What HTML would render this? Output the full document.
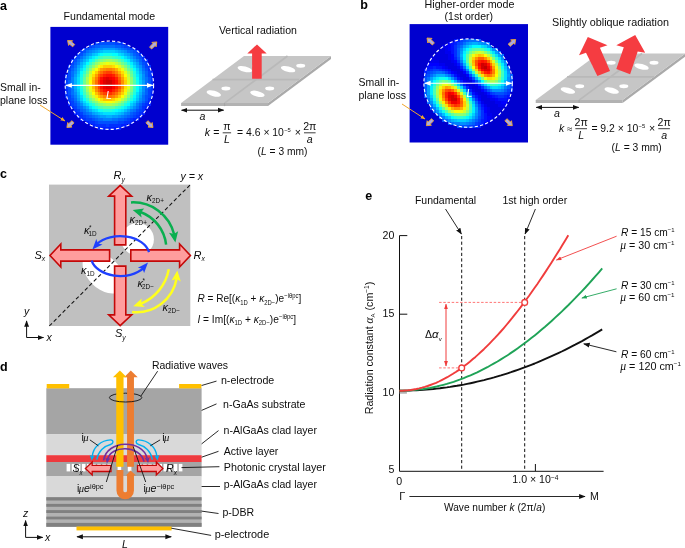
<!DOCTYPE html>
<html><head><meta charset="utf-8"><title>figure</title>
<style>html,body{margin:0;padding:0;background:#fff}svg{display:block;will-change:transform}text{font-family:'Liberation Sans', sans-serif}.i{font-style:italic}.b{font-weight:bold}</style>
</head><body>
<svg width="685" height="548" viewBox="0 0 685 548">
<defs>
<marker id="mk" viewBox="0 0 10 10" refX="9" refY="5" markerWidth="6.5" markerHeight="6.5" orient="auto-start-reverse" markerUnits="userSpaceOnUse"><path d="M0 1.2L10 5L0 8.8z" fill="#111"/></marker>
<marker id="mw" viewBox="0 0 10 10" refX="9" refY="5" markerWidth="6.5" markerHeight="6.5" orient="auto-start-reverse" markerUnits="userSpaceOnUse"><path d="M0 1.2L10 5L0 8.8z" fill="#fff"/></marker>
<marker id="mo" viewBox="0 0 10 10" refX="9" refY="5" markerWidth="5" markerHeight="5" orient="auto" markerUnits="userSpaceOnUse"><path d="M0 1.2L10 5L0 8.8z" fill="#f0a62a"/></marker>
<marker id="mr" viewBox="0 0 10 10" refX="9" refY="5" markerWidth="5.5" markerHeight="5.5" orient="auto-start-reverse" markerUnits="userSpaceOnUse"><path d="M0 1.5L10 5L0 8.5z" fill="#f03c3c"/></marker>
<marker id="mg" viewBox="0 0 10 10" refX="9" refY="5" markerWidth="5.5" markerHeight="5.5" orient="auto" markerUnits="userSpaceOnUse"><path d="M0 1.5L10 5L0 8.5z" fill="#1fa357"/></marker>
</defs>
<rect width="685" height="548" fill="#fff"/>
<text x="0" y="10" font-size="12.5" text-anchor="start" fill="#000" class="b" >a</text>
<text x="109.3" y="19.5" font-size="10.6" text-anchor="middle" fill="#0d0d0d"  textLength="91.5" lengthAdjust="spacingAndGlyphs" >Fundamental mode</text>
<rect x="50.40" y="26.90" width="117.80" height="117.80" fill="rgb(0, 0, 207)"/>
<g transform="translate(50.40 26.90) scale(2.9450)" shape-rendering="crispEdges">
<path fill="rgb(0, 32, 255)" d="M34 15h1v1h-1zM34 22h1v1h-1zM34 23h1v1h-1zM33 25h1v1h-1zM6 26h1v1h-1zM33 26h1v1h-1zM32 27h1v1h-1zM8 29h1v1h-1zM31 29h1v1h-1zM9 30h1v1h-1zM30 30h1v1h-1zM10 31h1v1h-1zM28 31h1v1h-1zM29 31h1v1h-1zM12 32h1v1h-1zM27 32h1v1h-1zM14 33h1v1h-1zM24 33h1v1h-1zM25 33h1v1h-1zM16 34h1v1h-1zM17 34h1v1h-1zM18 34h1v1h-1zM19 34h1v1h-1zM20 34h1v1h-1zM21 34h1v1h-1zM22 34h1v1h-1zM23 34h1v1h-1z"/>
<path fill="rgb(0, 48, 255)" d="M24 5h1v1h-1zM28 7h1v1h-1zM30 9h1v1h-1zM31 10h1v1h-1zM7 11h1v1h-1zM32 11h1v1h-1zM6 13h1v1h-1zM33 13h1v1h-1zM33 14h1v1h-1zM5 16h1v1h-1zM34 16h1v1h-1zM34 17h1v1h-1zM34 18h1v1h-1zM34 19h1v1h-1zM34 20h1v1h-1zM5 21h1v1h-1zM34 21h1v1h-1zM5 22h1v1h-1zM5 23h1v1h-1zM33 24h1v1h-1zM6 25h1v1h-1zM32 26h1v1h-1zM7 27h1v1h-1zM31 27h1v1h-1zM8 28h1v1h-1zM31 28h1v1h-1zM9 29h1v1h-1zM30 29h1v1h-1zM10 30h1v1h-1zM29 30h1v1h-1zM11 31h1v1h-1zM27 31h1v1h-1zM13 32h1v1h-1zM14 32h1v1h-1zM25 32h1v1h-1zM26 32h1v1h-1zM15 33h1v1h-1zM16 33h1v1h-1zM17 33h1v1h-1zM18 33h1v1h-1zM20 33h1v1h-1zM21 33h1v1h-1zM22 33h1v1h-1zM23 33h1v1h-1z"/>
<path fill="rgb(0, 64, 255)" d="M15 5h1v1h-1zM16 5h1v1h-1zM22 5h1v1h-1zM23 5h1v1h-1zM13 6h1v1h-1zM25 6h1v1h-1zM26 6h1v1h-1zM11 7h1v1h-1zM27 7h1v1h-1zM10 8h1v1h-1zM29 8h1v1h-1zM9 9h1v1h-1zM8 10h1v1h-1zM31 11h1v1h-1zM7 12h1v1h-1zM32 12h1v1h-1zM32 13h1v1h-1zM6 14h1v1h-1zM33 15h1v1h-1zM33 16h1v1h-1zM5 17h1v1h-1zM5 18h1v1h-1zM5 19h1v1h-1zM5 20h1v1h-1zM33 21h1v1h-1zM33 22h1v1h-1zM6 23h1v1h-1zM33 23h1v1h-1zM6 24h1v1h-1zM7 25h1v1h-1zM32 25h1v1h-1zM7 26h1v1h-1zM31 26h1v1h-1zM8 27h1v1h-1zM9 28h1v1h-1zM30 28h1v1h-1zM10 29h1v1h-1zM29 29h1v1h-1zM11 30h1v1h-1zM28 30h1v1h-1zM12 31h1v1h-1zM13 31h1v1h-1zM26 31h1v1h-1zM15 32h1v1h-1zM23 32h1v1h-1zM24 32h1v1h-1zM19 33h1v1h-1z"/>
<path fill="rgb(0, 80, 255)" d="M17 5h1v1h-1zM18 5h1v1h-1zM19 5h1v1h-1zM20 5h1v1h-1zM21 5h1v1h-1zM14 6h1v1h-1zM24 6h1v1h-1zM12 7h1v1h-1zM26 7h1v1h-1zM11 8h1v1h-1zM28 8h1v1h-1zM10 9h1v1h-1zM29 9h1v1h-1zM9 10h1v1h-1zM30 10h1v1h-1zM8 11h1v1h-1zM31 12h1v1h-1zM7 13h1v1h-1zM32 14h1v1h-1zM6 15h1v1h-1zM6 16h1v1h-1zM6 17h1v1h-1zM33 17h1v1h-1zM33 18h1v1h-1zM33 19h1v1h-1zM6 20h1v1h-1zM33 20h1v1h-1zM6 21h1v1h-1zM6 22h1v1h-1zM32 23h1v1h-1zM7 24h1v1h-1zM32 24h1v1h-1zM8 26h1v1h-1zM30 27h1v1h-1zM29 28h1v1h-1zM28 29h1v1h-1zM12 30h1v1h-1zM27 30h1v1h-1zM14 31h1v1h-1zM25 31h1v1h-1zM16 32h1v1h-1zM17 32h1v1h-1zM18 32h1v1h-1zM19 32h1v1h-1zM20 32h1v1h-1zM21 32h1v1h-1zM22 32h1v1h-1z"/>
<path fill="rgb(0, 96, 255)" d="M15 6h1v1h-1zM16 6h1v1h-1zM22 6h1v1h-1zM23 6h1v1h-1zM13 7h1v1h-1zM25 7h1v1h-1zM27 8h1v1h-1zM28 9h1v1h-1zM29 10h1v1h-1zM30 11h1v1h-1zM8 12h1v1h-1zM31 13h1v1h-1zM7 14h1v1h-1zM32 15h1v1h-1zM32 16h1v1h-1zM6 18h1v1h-1zM6 19h1v1h-1zM32 21h1v1h-1zM32 22h1v1h-1zM7 23h1v1h-1zM8 25h1v1h-1zM31 25h1v1h-1zM30 26h1v1h-1zM9 27h1v1h-1zM10 28h1v1h-1zM11 29h1v1h-1zM27 29h1v1h-1zM13 30h1v1h-1zM26 30h1v1h-1zM15 31h1v1h-1zM23 31h1v1h-1zM24 31h1v1h-1z"/>
<path fill="rgb(0, 112, 255)" d="M17 6h1v1h-1zM18 6h1v1h-1zM19 6h1v1h-1zM20 6h1v1h-1zM21 6h1v1h-1zM14 7h1v1h-1zM24 7h1v1h-1zM12 8h1v1h-1zM26 8h1v1h-1zM11 9h1v1h-1zM10 10h1v1h-1zM9 11h1v1h-1zM30 12h1v1h-1zM8 13h1v1h-1zM31 14h1v1h-1zM7 15h1v1h-1zM7 16h1v1h-1zM32 17h1v1h-1zM32 18h1v1h-1zM32 19h1v1h-1zM32 20h1v1h-1zM7 21h1v1h-1zM7 22h1v1h-1zM31 23h1v1h-1zM8 24h1v1h-1zM31 24h1v1h-1zM9 26h1v1h-1zM10 27h1v1h-1zM29 27h1v1h-1zM11 28h1v1h-1zM28 28h1v1h-1zM12 29h1v1h-1zM14 30h1v1h-1zM25 30h1v1h-1zM16 31h1v1h-1zM17 31h1v1h-1zM21 31h1v1h-1zM22 31h1v1h-1z"/>
<path fill="rgb(0, 128, 255)" d="M15 7h1v1h-1zM23 7h1v1h-1zM13 8h1v1h-1zM27 9h1v1h-1zM28 10h1v1h-1zM29 11h1v1h-1zM9 12h1v1h-1zM8 14h1v1h-1zM31 15h1v1h-1zM7 17h1v1h-1zM7 18h1v1h-1zM7 19h1v1h-1zM7 20h1v1h-1zM31 22h1v1h-1zM8 23h1v1h-1zM9 25h1v1h-1zM30 25h1v1h-1zM29 26h1v1h-1zM27 28h1v1h-1zM13 29h1v1h-1zM26 29h1v1h-1zM15 30h1v1h-1zM24 30h1v1h-1zM18 31h1v1h-1zM19 31h1v1h-1zM20 31h1v1h-1z"/>
<path fill="rgb(0, 143, 255)" d="M16 7h1v1h-1zM17 7h1v1h-1zM22 7h1v1h-1zM14 8h1v1h-1zM25 8h1v1h-1zM12 9h1v1h-1zM11 10h1v1h-1zM10 11h1v1h-1zM30 13h1v1h-1zM8 15h1v1h-1zM31 16h1v1h-1zM31 17h1v1h-1zM31 20h1v1h-1zM31 21h1v1h-1zM8 22h1v1h-1zM30 24h1v1h-1zM10 26h1v1h-1zM11 27h1v1h-1zM28 27h1v1h-1zM12 28h1v1h-1zM25 29h1v1h-1zM16 30h1v1h-1zM23 30h1v1h-1z"/>
<path fill="rgb(0, 159, 255)" d="M18 7h1v1h-1zM19 7h1v1h-1zM20 7h1v1h-1zM21 7h1v1h-1zM15 8h1v1h-1zM24 8h1v1h-1zM13 9h1v1h-1zM26 9h1v1h-1zM27 10h1v1h-1zM28 11h1v1h-1zM29 12h1v1h-1zM9 13h1v1h-1zM30 14h1v1h-1zM8 16h1v1h-1zM31 18h1v1h-1zM31 19h1v1h-1zM8 21h1v1h-1zM30 23h1v1h-1zM9 24h1v1h-1zM29 25h1v1h-1zM26 28h1v1h-1zM14 29h1v1h-1zM17 30h1v1h-1zM18 30h1v1h-1zM21 30h1v1h-1zM22 30h1v1h-1z"/>
<path fill="rgb(0, 175, 255)" d="M16 8h1v1h-1zM23 8h1v1h-1zM25 9h1v1h-1zM12 10h1v1h-1zM11 11h1v1h-1zM10 12h1v1h-1zM29 13h1v1h-1zM9 14h1v1h-1zM30 15h1v1h-1zM8 17h1v1h-1zM8 18h1v1h-1zM8 19h1v1h-1zM8 20h1v1h-1zM30 22h1v1h-1zM9 23h1v1h-1zM10 25h1v1h-1zM28 26h1v1h-1zM12 27h1v1h-1zM27 27h1v1h-1zM13 28h1v1h-1zM15 29h1v1h-1zM24 29h1v1h-1zM19 30h1v1h-1zM20 30h1v1h-1z"/>
<path fill="rgb(0, 191, 255)" d="M17 8h1v1h-1zM22 8h1v1h-1zM14 9h1v1h-1zM26 10h1v1h-1zM27 11h1v1h-1zM28 12h1v1h-1zM10 13h1v1h-1zM9 15h1v1h-1zM30 16h1v1h-1zM30 17h1v1h-1zM30 21h1v1h-1zM9 22h1v1h-1zM29 24h1v1h-1zM11 26h1v1h-1zM25 28h1v1h-1zM16 29h1v1h-1zM23 29h1v1h-1z"/>
<path fill="rgb(0, 207, 255)" d="M18 8h1v1h-1zM19 8h1v1h-1zM20 8h1v1h-1zM21 8h1v1h-1zM15 9h1v1h-1zM24 9h1v1h-1zM13 10h1v1h-1zM12 11h1v1h-1zM11 12h1v1h-1zM29 14h1v1h-1zM9 16h1v1h-1zM30 18h1v1h-1zM30 19h1v1h-1zM30 20h1v1h-1zM9 21h1v1h-1zM29 23h1v1h-1zM10 24h1v1h-1zM28 25h1v1h-1zM27 26h1v1h-1zM26 27h1v1h-1zM14 28h1v1h-1zM17 29h1v1h-1zM22 29h1v1h-1z"/>
<path fill="rgb(0, 223, 255)" d="M23 9h1v1h-1zM25 10h1v1h-1zM28 13h1v1h-1zM10 14h1v1h-1zM29 15h1v1h-1zM9 17h1v1h-1zM9 18h1v1h-1zM9 19h1v1h-1zM9 20h1v1h-1zM29 22h1v1h-1zM10 23h1v1h-1zM11 25h1v1h-1zM12 26h1v1h-1zM13 27h1v1h-1zM15 28h1v1h-1zM24 28h1v1h-1zM18 29h1v1h-1zM19 29h1v1h-1zM20 29h1v1h-1zM21 29h1v1h-1z"/>
<path fill="rgb(0, 239, 255)" d="M16 9h1v1h-1zM14 10h1v1h-1zM26 11h1v1h-1zM27 12h1v1h-1zM11 13h1v1h-1zM29 16h1v1h-1zM28 24h1v1h-1zM27 25h1v1h-1zM25 27h1v1h-1zM23 28h1v1h-1z"/>
<path fill="rgb(0, 255, 255)" d="M17 9h1v1h-1zM21 9h1v1h-1zM22 9h1v1h-1zM24 10h1v1h-1zM13 11h1v1h-1zM12 12h1v1h-1zM28 14h1v1h-1zM10 15h1v1h-1zM29 17h1v1h-1zM29 20h1v1h-1zM29 21h1v1h-1zM10 22h1v1h-1zM28 23h1v1h-1zM11 24h1v1h-1zM26 26h1v1h-1zM14 27h1v1h-1zM16 28h1v1h-1zM22 28h1v1h-1z"/>
<path fill="rgb(16, 255, 239)" d="M18 9h1v1h-1zM19 9h1v1h-1zM20 9h1v1h-1zM15 10h1v1h-1zM25 11h1v1h-1zM27 13h1v1h-1zM11 14h1v1h-1zM10 16h1v1h-1zM29 18h1v1h-1zM29 19h1v1h-1zM10 21h1v1h-1zM12 25h1v1h-1zM13 26h1v1h-1zM24 27h1v1h-1zM17 28h1v1h-1zM21 28h1v1h-1z"/>
<path fill="rgb(32, 255, 223)" d="M23 10h1v1h-1zM14 11h1v1h-1zM26 12h1v1h-1zM28 15h1v1h-1zM10 17h1v1h-1zM10 18h1v1h-1zM10 19h1v1h-1zM10 20h1v1h-1zM28 22h1v1h-1zM11 23h1v1h-1zM27 24h1v1h-1zM26 25h1v1h-1zM25 26h1v1h-1zM15 27h1v1h-1zM18 28h1v1h-1zM19 28h1v1h-1zM20 28h1v1h-1z"/>
<path fill="rgb(48, 255, 207)" d="M16 10h1v1h-1zM22 10h1v1h-1zM13 12h1v1h-1zM12 13h1v1h-1zM11 15h1v1h-1zM28 16h1v1h-1zM28 21h1v1h-1zM12 24h1v1h-1zM14 26h1v1h-1zM23 27h1v1h-1z"/>
<path fill="rgb(64, 255, 191)" d="M17 10h1v1h-1zM21 10h1v1h-1zM24 11h1v1h-1zM27 14h1v1h-1zM28 17h1v1h-1zM28 20h1v1h-1zM11 22h1v1h-1zM27 23h1v1h-1zM13 25h1v1h-1zM16 27h1v1h-1zM22 27h1v1h-1z"/>
<path fill="rgb(80, 255, 175)" d="M18 10h1v1h-1zM19 10h1v1h-1zM20 10h1v1h-1zM15 11h1v1h-1zM25 12h1v1h-1zM26 13h1v1h-1zM12 14h1v1h-1zM11 16h1v1h-1zM28 18h1v1h-1zM28 19h1v1h-1zM11 21h1v1h-1zM26 24h1v1h-1zM25 25h1v1h-1zM24 26h1v1h-1zM17 27h1v1h-1z"/>
<path fill="rgb(96, 255, 159)" d="M23 11h1v1h-1zM14 12h1v1h-1zM13 13h1v1h-1zM27 15h1v1h-1zM11 17h1v1h-1zM11 20h1v1h-1zM27 22h1v1h-1zM12 23h1v1h-1zM15 26h1v1h-1zM18 27h1v1h-1zM19 27h1v1h-1zM20 27h1v1h-1zM21 27h1v1h-1z"/>
<path fill="rgb(112, 255, 143)" d="M16 11h1v1h-1zM24 12h1v1h-1zM26 14h1v1h-1zM12 15h1v1h-1zM27 16h1v1h-1zM11 18h1v1h-1zM11 19h1v1h-1zM13 24h1v1h-1zM14 25h1v1h-1zM23 26h1v1h-1z"/>
<path fill="rgb(128, 255, 128)" d="M17 11h1v1h-1zM22 11h1v1h-1zM25 13h1v1h-1zM27 21h1v1h-1zM12 22h1v1h-1zM26 23h1v1h-1zM24 25h1v1h-1zM16 26h1v1h-1z"/>
<path fill="rgb(143, 255, 112)" d="M18 11h1v1h-1zM21 11h1v1h-1zM15 12h1v1h-1zM14 13h1v1h-1zM13 14h1v1h-1zM12 16h1v1h-1zM27 17h1v1h-1zM27 18h1v1h-1zM27 19h1v1h-1zM27 20h1v1h-1zM25 24h1v1h-1zM15 25h1v1h-1zM17 26h1v1h-1zM22 26h1v1h-1z"/>
<path fill="rgb(159, 255, 96)" d="M19 11h1v1h-1zM20 11h1v1h-1zM23 12h1v1h-1zM26 15h1v1h-1zM12 21h1v1h-1zM26 22h1v1h-1zM13 23h1v1h-1zM14 24h1v1h-1zM18 26h1v1h-1zM21 26h1v1h-1z"/>
<path fill="rgb(175, 255, 80)" d="M16 12h1v1h-1zM24 13h1v1h-1zM25 14h1v1h-1zM12 17h1v1h-1zM12 18h1v1h-1zM12 19h1v1h-1zM12 20h1v1h-1zM23 25h1v1h-1zM19 26h1v1h-1zM20 26h1v1h-1z"/>
<path fill="rgb(191, 255, 64)" d="M22 12h1v1h-1zM15 13h1v1h-1zM13 15h1v1h-1zM26 16h1v1h-1zM26 21h1v1h-1zM13 22h1v1h-1zM25 23h1v1h-1zM24 24h1v1h-1zM16 25h1v1h-1z"/>
<path fill="rgb(207, 255, 48)" d="M17 12h1v1h-1zM14 14h1v1h-1zM26 17h1v1h-1zM14 23h1v1h-1zM15 24h1v1h-1zM22 25h1v1h-1z"/>
<path fill="rgb(223, 255, 32)" d="M18 12h1v1h-1zM20 12h1v1h-1zM21 12h1v1h-1zM23 13h1v1h-1zM25 15h1v1h-1zM13 16h1v1h-1zM26 18h1v1h-1zM26 19h1v1h-1zM26 20h1v1h-1zM13 21h1v1h-1zM17 25h1v1h-1z"/>
<path fill="rgb(239, 255, 16)" d="M19 12h1v1h-1zM16 13h1v1h-1zM24 14h1v1h-1zM13 17h1v1h-1zM13 20h1v1h-1zM25 22h1v1h-1zM23 24h1v1h-1zM18 25h1v1h-1zM21 25h1v1h-1z"/>
<path fill="rgb(255, 255, 0)" d="M22 13h1v1h-1zM15 14h1v1h-1zM14 15h1v1h-1zM25 16h1v1h-1zM13 18h1v1h-1zM13 19h1v1h-1zM14 22h1v1h-1zM24 23h1v1h-1zM16 24h1v1h-1zM19 25h1v1h-1zM20 25h1v1h-1z"/>
<path fill="rgb(255, 239, 0)" d="M17 13h1v1h-1zM25 21h1v1h-1zM15 23h1v1h-1zM22 24h1v1h-1z"/>
<path fill="rgb(255, 223, 0)" d="M21 13h1v1h-1zM23 14h1v1h-1zM24 15h1v1h-1zM14 16h1v1h-1zM25 17h1v1h-1zM25 20h1v1h-1zM14 21h1v1h-1zM17 24h1v1h-1z"/>
<path fill="rgb(255, 207, 0)" d="M18 13h1v1h-1zM19 13h1v1h-1zM20 13h1v1h-1zM16 14h1v1h-1zM15 15h1v1h-1zM25 18h1v1h-1zM25 19h1v1h-1zM24 22h1v1h-1zM23 23h1v1h-1zM21 24h1v1h-1z"/>
<path fill="rgb(255, 191, 0)" d="M24 16h1v1h-1zM14 17h1v1h-1zM14 20h1v1h-1zM15 22h1v1h-1zM16 23h1v1h-1zM18 24h1v1h-1zM19 24h1v1h-1zM20 24h1v1h-1z"/>
<path fill="rgb(255, 175, 0)" d="M22 14h1v1h-1zM23 15h1v1h-1zM14 18h1v1h-1zM14 19h1v1h-1zM24 21h1v1h-1z"/>
<path fill="rgb(255, 159, 0)" d="M17 14h1v1h-1zM15 16h1v1h-1zM24 17h1v1h-1zM23 22h1v1h-1zM17 23h1v1h-1zM22 23h1v1h-1z"/>
<path fill="rgb(255, 143, 0)" d="M18 14h1v1h-1zM21 14h1v1h-1zM16 15h1v1h-1zM24 18h1v1h-1zM24 19h1v1h-1zM24 20h1v1h-1zM15 21h1v1h-1zM16 22h1v1h-1z"/>
<path fill="rgb(255, 128, 0)" d="M19 14h1v1h-1zM20 14h1v1h-1zM22 15h1v1h-1zM23 16h1v1h-1zM15 17h1v1h-1zM15 20h1v1h-1zM18 23h1v1h-1zM21 23h1v1h-1z"/>
<path fill="rgb(255, 112, 0)" d="M17 15h1v1h-1zM15 18h1v1h-1zM15 19h1v1h-1zM23 21h1v1h-1zM22 22h1v1h-1zM19 23h1v1h-1zM20 23h1v1h-1z"/>
<path fill="rgb(255, 96, 0)" d="M21 15h1v1h-1zM16 16h1v1h-1zM23 17h1v1h-1zM16 21h1v1h-1zM17 22h1v1h-1z"/>
<path fill="rgb(255, 80, 0)" d="M18 15h1v1h-1zM22 16h1v1h-1zM23 18h1v1h-1zM23 20h1v1h-1zM21 22h1v1h-1z"/>
<path fill="rgb(255, 64, 0)" d="M19 15h1v1h-1zM20 15h1v1h-1zM17 16h1v1h-1zM16 17h1v1h-1zM23 19h1v1h-1zM16 20h1v1h-1zM22 21h1v1h-1zM18 22h1v1h-1z"/>
<path fill="rgb(255, 48, 0)" d="M16 18h1v1h-1zM16 19h1v1h-1zM17 21h1v1h-1zM19 22h1v1h-1zM20 22h1v1h-1z"/>
<path fill="rgb(255, 32, 0)" d="M18 16h1v1h-1zM21 16h1v1h-1zM22 17h1v1h-1zM22 20h1v1h-1zM21 21h1v1h-1z"/>
<path fill="rgb(255, 16, 0)" d="M19 16h1v1h-1zM20 16h1v1h-1zM17 17h1v1h-1zM22 18h1v1h-1zM22 19h1v1h-1zM17 20h1v1h-1zM18 21h1v1h-1z"/>
<path fill="rgb(255, 0, 0)" d="M21 17h1v1h-1zM17 18h1v1h-1zM17 19h1v1h-1zM21 20h1v1h-1zM19 21h1v1h-1zM20 21h1v1h-1z"/>
<path fill="rgb(239, 0, 0)" d="M18 17h1v1h-1zM20 17h1v1h-1zM21 18h1v1h-1zM21 19h1v1h-1zM18 20h1v1h-1z"/>
<path fill="rgb(223, 0, 0)" d="M19 17h1v1h-1zM18 18h1v1h-1zM18 19h1v1h-1zM19 20h1v1h-1zM20 20h1v1h-1z"/>
<path fill="rgb(207, 0, 0)" d="M19 18h1v1h-1zM20 18h1v1h-1zM19 19h1v1h-1zM20 19h1v1h-1z"/>
</g>
<circle cx="109.4" cy="85.2" r="44.2" fill="none" stroke="#fff" stroke-width="1.1" stroke-dasharray="3.2 2.2"/>
<line x1="66" y1="85.4" x2="152.8" y2="85.4" stroke="#fff" stroke-width="1.1" marker-start="url(#mw)" marker-end="url(#mw)"/>
<text x="106" y="98.8" font-size="10.6" text-anchor="start" fill="#fff" class="i" >L</text>
<polygon points="74.7,44.5 71.6,41.9 72.6,40.7 67.6,40.5 68.6,45.4 69.6,44.2 72.7,46.8" fill="#a9a9e6" stroke="#f0a62a" stroke-width="0.9" stroke-linejoin="miter"/>
<polygon points="151.6,49.0 155.1,45.7 156.2,46.8 156.8,41.9 151.9,42.4 153.0,43.5 149.5,46.9" fill="#a9a9e6" stroke="#f0a62a" stroke-width="0.9" stroke-linejoin="miter"/>
<polygon points="72.0,120.7 68.7,123.7 67.7,122.5 66.9,127.5 71.9,127.1 70.8,125.9 74.0,122.9" fill="#a9a9e6" stroke="#f0a62a" stroke-width="0.9" stroke-linejoin="miter"/>
<polygon points="145.9,122.9 149.1,125.9 148.0,127.1 153.0,127.5 152.2,122.5 151.2,123.7 147.9,120.7" fill="#a9a9e6" stroke="#f0a62a" stroke-width="0.9" stroke-linejoin="miter"/>
<text x="0" y="91.2" font-size="10.6" text-anchor="start" fill="#0d0d0d"  textLength="40.7" lengthAdjust="spacingAndGlyphs" >Small in-</text>
<text x="0" y="103.7" font-size="10.6" text-anchor="start" fill="#0d0d0d"  textLength="47.5" lengthAdjust="spacingAndGlyphs" >plane loss</text>
<line x1="40" y1="105" x2="65" y2="121" stroke="#f0a62a" stroke-width="1" marker-end="url(#mo)"/>
<polygon points="181.1,103.1 268,103.1 268,106.1 181.1,106.1" fill="#b2b2b2"/>
<polygon points="268,103.1 331,56 331,59.0 268,106.1" fill="#aaa"/>
<polygon points="181.1,103.1 268,103.1 331,56 244,56" fill="#c6c6c6"/>
<line x1="224.55" y1="103.1" x2="287.5" y2="56" stroke="#b9b9b9" stroke-width="1.7"/>
<line x1="212.55" y1="79.55" x2="299.5" y2="79.55" stroke="#b9b9b9" stroke-width="1.7"/>
<line x1="224.55" y1="103.1" x2="224.55" y2="106.1" stroke="#a4a4a4" stroke-width="1.2"/>
<ellipse cx="244.8" cy="69.1" rx="7.4" ry="2.75" fill="#fff" transform="rotate(14 244.8 69.1)"/>
<ellipse cx="256.5" cy="65.8" rx="4.5" ry="1.95" fill="#fff" transform="rotate(0 256.5 65.8)"/>
<ellipse cx="288.1" cy="69.1" rx="7.4" ry="2.75" fill="#fff" transform="rotate(14 288.1 69.1)"/>
<ellipse cx="300.7" cy="65.8" rx="4.5" ry="1.95" fill="#fff" transform="rotate(0 300.7 65.8)"/>
<ellipse cx="213.8" cy="93.5" rx="7.4" ry="2.75" fill="#fff" transform="rotate(14 213.8 93.5)"/>
<ellipse cx="225.9" cy="88.5" rx="4.5" ry="1.95" fill="#fff" transform="rotate(0 225.9 88.5)"/>
<ellipse cx="257.4" cy="93.8" rx="7.4" ry="2.75" fill="#fff" transform="rotate(14 257.4 93.8)"/>
<ellipse cx="269.7" cy="88.5" rx="4.5" ry="1.95" fill="#fff" transform="rotate(0 269.7 88.5)"/>
<polygon points="252.1,78.7 252.1,53.5 247.3,53.5 257.0,44.4 266.7,53.5 261.7,53.5 261.7,78.7" fill="#f53c41"/>
<text x="257.9" y="34.4" font-size="10.6" text-anchor="middle" fill="#0d0d0d"  textLength="78" lengthAdjust="spacingAndGlyphs" >Vertical radiation</text>
<line x1="181.6" y1="110.2" x2="223.6" y2="110.2" stroke="#111" stroke-width="1" marker-start="url(#mk)" marker-end="url(#mk)"/>
<text x="202.5" y="119.6" font-size="10.6" text-anchor="middle" fill="#0d0d0d" class="i" >a</text>
<g font-size="10.6" fill="#0d0d0d">
<text x="204.7" y="135.7" class="i">k</text>
<text x="213.29999999999998" y="135.7">=</text>
<text x="226.89999999999998" y="129.89999999999998" text-anchor="middle">π</text>
<line x1="222.7" y1="132.79999999999998" x2="231.09999999999997" y2="132.79999999999998" stroke="#0d0d0d" stroke-width="0.8"/>
<text x="226.89999999999998" y="142.89999999999998" text-anchor="middle" class="i">L</text>
<text x="237.1" y="135.7" textLength="46.8" lengthAdjust="spacingAndGlyphs">= 4.6 × 10</text>
<text x="284.2" y="131.7" font-size="5.8">−5</text>
<text x="294.7" y="135.7">×</text>
<text x="309.79999999999995" y="129.89999999999998" text-anchor="middle">2π</text>
<line x1="303.99999999999994" y1="132.79999999999998" x2="315.59999999999997" y2="132.79999999999998" stroke="#0d0d0d" stroke-width="0.8"/>
<text x="309.79999999999995" y="142.89999999999998" text-anchor="middle" class="i">a</text>
</g>
<text x="257.6" y="155" font-size="10.6" fill="#0d0d0d" textLength="49.8" lengthAdjust="spacingAndGlyphs">(<tspan class="i">L</tspan> = 3 mm)</text>
<text x="360.3" y="9.3" font-size="12.5" text-anchor="start" fill="#000" class="b" >b</text>
<text x="469.5" y="7.5" font-size="10.6" text-anchor="middle" fill="#0d0d0d"  textLength="90" lengthAdjust="spacingAndGlyphs" >Higher-order mode</text>
<text x="468.8" y="20" font-size="10.6" text-anchor="middle" fill="#0d0d0d"  textLength="48.5" lengthAdjust="spacingAndGlyphs" >(1st order)</text>
<rect x="409.60" y="24.10" width="118.40" height="118.40" fill="rgb(0, 0, 207)"/>
<g transform="translate(409.60 24.10) scale(2.9600)" shape-rendering="crispEdges">
<path fill="rgb(0, 0, 223)" d="M10 8h1v1h-1zM11 8h1v1h-1zM9 9h1v1h-1zM10 9h1v1h-1zM11 9h1v1h-1zM8 10h1v1h-1zM9 10h1v1h-1zM10 10h1v1h-1zM11 10h1v1h-1zM12 10h1v1h-1zM8 11h1v1h-1zM9 11h1v1h-1zM10 11h1v1h-1zM11 11h1v1h-1zM12 11h1v1h-1zM10 12h1v1h-1zM11 12h1v1h-1zM12 12h1v1h-1zM13 12h1v1h-1zM12 13h1v1h-1zM13 13h1v1h-1zM14 13h1v1h-1zM13 14h1v1h-1zM14 14h1v1h-1zM15 14h1v1h-1zM14 15h1v1h-1zM15 15h1v1h-1zM16 15h1v1h-1zM16 16h1v1h-1zM17 16h1v1h-1zM17 17h1v1h-1zM18 17h1v1h-1zM18 18h1v1h-1zM19 18h1v1h-1zM19 19h1v1h-1zM20 19h1v1h-1zM20 20h1v1h-1zM21 20h1v1h-1zM21 21h1v1h-1zM22 21h1v1h-1zM22 22h1v1h-1zM23 22h1v1h-1zM23 23h1v1h-1zM24 23h1v1h-1zM24 24h1v1h-1zM25 24h1v1h-1zM24 25h1v1h-1zM25 25h1v1h-1zM26 25h1v1h-1zM25 26h1v1h-1zM26 26h1v1h-1zM27 26h1v1h-1zM28 26h1v1h-1zM26 27h1v1h-1zM27 27h1v1h-1zM28 27h1v1h-1zM29 27h1v1h-1zM27 28h1v1h-1zM28 28h1v1h-1zM29 28h1v1h-1zM30 28h1v1h-1zM31 28h1v1h-1zM27 29h1v1h-1zM28 29h1v1h-1zM29 29h1v1h-1zM30 29h1v1h-1zM28 30h1v1h-1zM29 30h1v1h-1zM30 30h1v1h-1zM28 31h1v1h-1z"/>
<path fill="rgb(0, 0, 239)" d="M11 7h1v1h-1zM12 7h1v1h-1zM12 8h1v1h-1zM12 9h1v1h-1zM13 9h1v1h-1zM13 10h1v1h-1zM7 11h1v1h-1zM13 11h1v1h-1zM7 12h1v1h-1zM8 12h1v1h-1zM9 12h1v1h-1zM14 12h1v1h-1zM10 13h1v1h-1zM11 13h1v1h-1zM15 13h1v1h-1zM12 14h1v1h-1zM16 14h1v1h-1zM15 16h1v1h-1zM16 17h1v1h-1zM17 18h1v1h-1zM18 19h1v1h-1zM19 20h1v1h-1zM20 21h1v1h-1zM21 22h1v1h-1zM22 23h1v1h-1zM25 23h1v1h-1zM23 24h1v1h-1zM26 24h1v1h-1zM27 25h1v1h-1zM28 25h1v1h-1zM24 26h1v1h-1zM29 26h1v1h-1zM30 26h1v1h-1zM25 27h1v1h-1zM30 27h1v1h-1zM31 27h1v1h-1zM32 27h1v1h-1zM26 28h1v1h-1zM26 29h1v1h-1zM26 30h1v1h-1zM27 30h1v1h-1zM27 31h1v1h-1zM27 32h1v1h-1z"/>
<path fill="rgb(0, 0, 255)" d="M13 6h1v1h-1zM13 7h1v1h-1zM13 8h1v1h-1zM14 10h1v1h-1zM14 11h1v1h-1zM15 12h1v1h-1zM6 13h1v1h-1zM7 13h1v1h-1zM8 13h1v1h-1zM9 13h1v1h-1zM11 14h1v1h-1zM13 15h1v1h-1zM17 15h1v1h-1zM14 16h1v1h-1zM18 16h1v1h-1zM19 17h1v1h-1zM22 20h1v1h-1zM23 21h1v1h-1zM24 22h1v1h-1zM27 24h1v1h-1zM23 25h1v1h-1zM29 25h1v1h-1zM33 25h1v1h-1zM31 26h1v1h-1zM32 26h1v1h-1zM25 28h1v1h-1zM25 29h1v1h-1zM26 31h1v1h-1zM26 32h1v1h-1zM25 33h1v1h-1z"/>
<path fill="rgb(0, 16, 255)" d="M15 5h1v1h-1zM14 6h1v1h-1zM14 7h1v1h-1zM14 8h1v1h-1zM14 9h1v1h-1zM16 13h1v1h-1zM6 14h1v1h-1zM7 14h1v1h-1zM9 14h1v1h-1zM10 14h1v1h-1zM5 15h1v1h-1zM12 15h1v1h-1zM15 17h1v1h-1zM16 18h1v1h-1zM20 18h1v1h-1zM21 19h1v1h-1zM21 23h1v1h-1zM26 23h1v1h-1zM22 24h1v1h-1zM28 24h1v1h-1zM33 24h1v1h-1zM30 25h1v1h-1zM31 25h1v1h-1zM32 25h1v1h-1zM24 27h1v1h-1zM25 30h1v1h-1zM25 31h1v1h-1zM25 32h1v1h-1z"/>
<path fill="rgb(0, 32, 255)" d="M16 5h1v1h-1zM15 6h1v1h-1zM15 11h1v1h-1zM8 14h1v1h-1zM17 14h1v1h-1zM6 15h1v1h-1zM11 15h1v1h-1zM5 16h1v1h-1zM13 16h1v1h-1zM17 19h1v1h-1zM18 20h1v1h-1zM19 21h1v1h-1zM20 22h1v1h-1zM25 22h1v1h-1zM29 24h1v1h-1zM32 24h1v1h-1zM23 26h1v1h-1zM24 28h1v1h-1zM24 32h1v1h-1zM24 33h1v1h-1zM23 34h1v1h-1z"/>
<path fill="rgb(0, 48, 255)" d="M15 7h1v1h-1zM15 8h1v1h-1zM15 9h1v1h-1zM15 10h1v1h-1zM16 12h1v1h-1zM7 15h1v1h-1zM10 15h1v1h-1zM18 15h1v1h-1zM24 21h1v1h-1zM34 22h1v1h-1zM27 23h1v1h-1zM33 23h1v1h-1zM30 24h1v1h-1zM31 24h1v1h-1zM22 25h1v1h-1zM24 29h1v1h-1zM24 30h1v1h-1zM24 31h1v1h-1zM23 33h1v1h-1zM22 34h1v1h-1z"/>
<path fill="rgb(0, 64, 255)" d="M17 5h1v1h-1zM16 6h1v1h-1zM8 15h1v1h-1zM9 15h1v1h-1zM6 16h1v1h-1zM12 16h1v1h-1zM19 16h1v1h-1zM5 17h1v1h-1zM14 17h1v1h-1zM23 20h1v1h-1zM34 21h1v1h-1zM33 22h1v1h-1zM28 23h1v1h-1zM32 23h1v1h-1zM21 24h1v1h-1zM23 27h1v1h-1zM23 32h1v1h-1zM22 33h1v1h-1zM20 34h1v1h-1zM21 34h1v1h-1z"/>
<path fill="rgb(0, 80, 255)" d="M18 5h1v1h-1zM17 6h1v1h-1zM16 7h1v1h-1zM16 11h1v1h-1zM17 13h1v1h-1zM7 16h1v1h-1zM6 17h1v1h-1zM20 17h1v1h-1zM5 18h1v1h-1zM15 18h1v1h-1zM21 18h1v1h-1zM5 19h1v1h-1zM22 19h1v1h-1zM34 19h1v1h-1zM34 20h1v1h-1zM26 22h1v1h-1zM29 23h1v1h-1zM30 23h1v1h-1zM31 23h1v1h-1zM5 24h1v1h-1zM7 28h1v1h-1zM23 28h1v1h-1zM23 31h1v1h-1zM11 32h1v1h-1zM13 33h1v1h-1zM16 34h1v1h-1zM17 34h1v1h-1zM18 34h1v1h-1zM19 34h1v1h-1z"/>
<path fill="rgb(0, 96, 255)" d="M19 5h1v1h-1zM23 5h1v1h-1zM16 8h1v1h-1zM16 9h1v1h-1zM16 10h1v1h-1zM8 16h1v1h-1zM11 16h1v1h-1zM34 17h1v1h-1zM34 18h1v1h-1zM16 19h1v1h-1zM5 20h1v1h-1zM5 21h1v1h-1zM33 21h1v1h-1zM5 22h1v1h-1zM32 22h1v1h-1zM5 23h1v1h-1zM20 23h1v1h-1zM6 26h1v1h-1zM22 26h1v1h-1zM8 29h1v1h-1zM23 29h1v1h-1zM9 30h1v1h-1zM23 30h1v1h-1zM10 31h1v1h-1zM22 32h1v1h-1zM21 33h1v1h-1z"/>
<path fill="rgb(0, 112, 255)" d="M20 5h1v1h-1zM21 5h1v1h-1zM22 5h1v1h-1zM18 6h1v1h-1zM26 6h1v1h-1zM17 7h1v1h-1zM29 8h1v1h-1zM30 9h1v1h-1zM31 10h1v1h-1zM18 14h1v1h-1zM33 14h1v1h-1zM9 16h1v1h-1zM10 16h1v1h-1zM7 17h1v1h-1zM13 17h1v1h-1zM6 18h1v1h-1zM17 20h1v1h-1zM33 20h1v1h-1zM18 21h1v1h-1zM25 21h1v1h-1zM19 22h1v1h-1zM27 22h1v1h-1zM6 25h1v1h-1zM7 27h1v1h-1zM12 32h1v1h-1zM14 33h1v1h-1zM20 33h1v1h-1z"/>
<path fill="rgb(0, 128, 255)" d="M25 6h1v1h-1zM27 7h1v1h-1zM17 12h1v1h-1zM32 12h1v1h-1zM33 15h1v1h-1zM32 21h1v1h-1zM31 22h1v1h-1zM21 25h1v1h-1zM22 27h1v1h-1zM8 28h1v1h-1zM11 31h1v1h-1zM22 31h1v1h-1zM21 32h1v1h-1zM15 33h1v1h-1zM16 33h1v1h-1zM19 33h1v1h-1z"/>
<path fill="rgb(0, 143, 255)" d="M19 6h1v1h-1zM24 6h1v1h-1zM17 8h1v1h-1zM28 8h1v1h-1zM31 11h1v1h-1zM19 15h1v1h-1zM33 16h1v1h-1zM8 17h1v1h-1zM12 17h1v1h-1zM14 18h1v1h-1zM33 18h1v1h-1zM6 19h1v1h-1zM33 19h1v1h-1zM24 20h1v1h-1zM28 22h1v1h-1zM29 22h1v1h-1zM30 22h1v1h-1zM6 24h1v1h-1zM7 26h1v1h-1zM9 29h1v1h-1zM10 30h1v1h-1zM22 30h1v1h-1zM13 32h1v1h-1zM17 33h1v1h-1zM18 33h1v1h-1z"/>
<path fill="rgb(0, 159, 255)" d="M20 6h1v1h-1zM23 6h1v1h-1zM18 7h1v1h-1zM26 7h1v1h-1zM17 9h1v1h-1zM29 9h1v1h-1zM30 10h1v1h-1zM17 11h1v1h-1zM32 13h1v1h-1zM33 17h1v1h-1zM7 18h1v1h-1zM23 19h1v1h-1zM6 20h1v1h-1zM6 21h1v1h-1zM26 21h1v1h-1zM6 22h1v1h-1zM6 23h1v1h-1zM22 28h1v1h-1zM22 29h1v1h-1zM20 32h1v1h-1z"/>
<path fill="rgb(0, 175, 255)" d="M21 6h1v1h-1zM22 6h1v1h-1zM17 10h1v1h-1zM18 13h1v1h-1zM20 16h1v1h-1zM9 17h1v1h-1zM10 17h1v1h-1zM11 17h1v1h-1zM21 17h1v1h-1zM22 18h1v1h-1zM15 19h1v1h-1zM32 20h1v1h-1zM31 21h1v1h-1zM20 24h1v1h-1zM7 25h1v1h-1zM8 27h1v1h-1zM12 31h1v1h-1zM21 31h1v1h-1zM14 32h1v1h-1z"/>
<path fill="rgb(0, 191, 255)" d="M19 7h1v1h-1zM31 12h1v1h-1zM32 14h1v1h-1zM7 19h1v1h-1zM32 19h1v1h-1zM21 26h1v1h-1zM9 28h1v1h-1zM11 30h1v1h-1zM15 32h1v1h-1zM19 32h1v1h-1z"/>
<path fill="rgb(0, 207, 255)" d="M25 7h1v1h-1zM18 8h1v1h-1zM27 8h1v1h-1zM32 15h1v1h-1zM8 18h1v1h-1zM13 18h1v1h-1zM16 20h1v1h-1zM25 20h1v1h-1zM27 21h1v1h-1zM30 21h1v1h-1zM19 23h1v1h-1zM7 24h1v1h-1zM10 29h1v1h-1zM21 30h1v1h-1zM13 31h1v1h-1zM16 32h1v1h-1zM17 32h1v1h-1zM18 32h1v1h-1z"/>
<path fill="rgb(0, 223, 255)" d="M20 7h1v1h-1zM24 7h1v1h-1zM28 9h1v1h-1zM29 10h1v1h-1zM30 11h1v1h-1zM18 12h1v1h-1zM19 14h1v1h-1zM32 16h1v1h-1zM32 17h1v1h-1zM32 18h1v1h-1zM7 20h1v1h-1zM31 20h1v1h-1zM17 21h1v1h-1zM28 21h1v1h-1zM29 21h1v1h-1zM18 22h1v1h-1zM8 26h1v1h-1zM21 27h1v1h-1zM20 31h1v1h-1z"/>
<path fill="rgb(0, 239, 255)" d="M18 9h1v1h-1zM31 13h1v1h-1zM9 18h1v1h-1zM7 21h1v1h-1zM7 22h1v1h-1zM7 23h1v1h-1zM20 25h1v1h-1zM21 28h1v1h-1zM21 29h1v1h-1z"/>
<path fill="rgb(0, 255, 255)" d="M21 7h1v1h-1zM22 7h1v1h-1zM23 7h1v1h-1zM19 8h1v1h-1zM26 8h1v1h-1zM18 10h1v1h-1zM18 11h1v1h-1zM12 18h1v1h-1zM8 19h1v1h-1zM14 19h1v1h-1zM24 19h1v1h-1zM9 27h1v1h-1zM12 30h1v1h-1zM14 31h1v1h-1zM19 31h1v1h-1z"/>
<path fill="rgb(16, 255, 239)" d="M30 12h1v1h-1zM31 14h1v1h-1zM20 15h1v1h-1zM10 18h1v1h-1zM11 18h1v1h-1zM31 19h1v1h-1zM26 20h1v1h-1zM30 20h1v1h-1zM8 25h1v1h-1zM10 28h1v1h-1zM11 29h1v1h-1zM20 30h1v1h-1z"/>
<path fill="rgb(32, 255, 223)" d="M25 8h1v1h-1zM27 9h1v1h-1zM23 18h1v1h-1zM8 20h1v1h-1zM15 31h1v1h-1zM18 31h1v1h-1z"/>
<path fill="rgb(48, 255, 207)" d="M20 8h1v1h-1zM19 9h1v1h-1zM28 10h1v1h-1zM29 11h1v1h-1zM19 13h1v1h-1zM31 15h1v1h-1zM21 16h1v1h-1zM22 17h1v1h-1zM31 18h1v1h-1zM9 19h1v1h-1zM29 20h1v1h-1zM8 24h1v1h-1zM19 24h1v1h-1zM20 26h1v1h-1zM13 30h1v1h-1zM16 31h1v1h-1zM17 31h1v1h-1z"/>
<path fill="rgb(64, 255, 191)" d="M31 16h1v1h-1zM31 17h1v1h-1zM15 20h1v1h-1zM27 20h1v1h-1zM28 20h1v1h-1zM8 21h1v1h-1zM9 26h1v1h-1zM20 29h1v1h-1z"/>
<path fill="rgb(80, 255, 175)" d="M21 8h1v1h-1zM24 8h1v1h-1zM30 13h1v1h-1zM13 19h1v1h-1zM30 19h1v1h-1zM16 21h1v1h-1zM8 22h1v1h-1zM8 23h1v1h-1zM18 23h1v1h-1zM20 27h1v1h-1zM20 28h1v1h-1zM12 29h1v1h-1zM19 30h1v1h-1z"/>
<path fill="rgb(96, 255, 159)" d="M22 8h1v1h-1zM23 8h1v1h-1zM26 9h1v1h-1zM19 10h1v1h-1zM19 11h1v1h-1zM19 12h1v1h-1zM10 19h1v1h-1zM25 19h1v1h-1zM17 22h1v1h-1zM10 27h1v1h-1zM14 30h1v1h-1z"/>
<path fill="rgb(112, 255, 143)" d="M20 9h1v1h-1zM29 12h1v1h-1zM20 14h1v1h-1zM12 19h1v1h-1zM9 20h1v1h-1zM9 25h1v1h-1zM11 28h1v1h-1z"/>
<path fill="rgb(128, 255, 128)" d="M27 10h1v1h-1zM28 11h1v1h-1zM30 14h1v1h-1zM30 18h1v1h-1zM11 19h1v1h-1zM19 25h1v1h-1zM15 30h1v1h-1zM18 30h1v1h-1z"/>
<path fill="rgb(143, 255, 112)" d="M25 9h1v1h-1zM24 18h1v1h-1zM26 19h1v1h-1zM29 19h1v1h-1zM14 20h1v1h-1zM19 29h1v1h-1zM16 30h1v1h-1zM17 30h1v1h-1z"/>
<path fill="rgb(159, 255, 96)" d="M21 9h1v1h-1zM21 15h1v1h-1zM30 15h1v1h-1zM30 17h1v1h-1zM9 21h1v1h-1zM9 24h1v1h-1zM13 29h1v1h-1z"/>
<path fill="rgb(175, 255, 80)" d="M20 10h1v1h-1zM20 13h1v1h-1zM30 16h1v1h-1zM23 17h1v1h-1zM27 19h1v1h-1zM28 19h1v1h-1zM10 20h1v1h-1zM9 22h1v1h-1zM9 23h1v1h-1zM10 26h1v1h-1zM19 26h1v1h-1z"/>
<path fill="rgb(191, 255, 64)" d="M22 9h1v1h-1zM24 9h1v1h-1zM26 10h1v1h-1zM29 13h1v1h-1zM22 16h1v1h-1zM18 24h1v1h-1zM11 27h1v1h-1zM12 28h1v1h-1zM19 28h1v1h-1z"/>
<path fill="rgb(207, 255, 48)" d="M23 9h1v1h-1zM20 11h1v1h-1zM20 12h1v1h-1zM29 18h1v1h-1zM13 20h1v1h-1zM15 21h1v1h-1zM19 27h1v1h-1zM14 29h1v1h-1zM18 29h1v1h-1z"/>
<path fill="rgb(223, 255, 32)" d="M27 11h1v1h-1zM28 12h1v1h-1zM11 20h1v1h-1zM16 22h1v1h-1zM17 23h1v1h-1z"/>
<path fill="rgb(239, 255, 16)" d="M21 10h1v1h-1zM29 14h1v1h-1zM25 18h1v1h-1zM12 20h1v1h-1zM10 21h1v1h-1zM10 25h1v1h-1zM17 29h1v1h-1z"/>
<path fill="rgb(255, 255, 0)" d="M25 10h1v1h-1zM21 14h1v1h-1zM29 17h1v1h-1zM15 29h1v1h-1zM16 29h1v1h-1z"/>
<path fill="rgb(255, 239, 0)" d="M29 15h1v1h-1zM29 16h1v1h-1zM28 18h1v1h-1zM10 24h1v1h-1zM18 25h1v1h-1zM11 26h1v1h-1zM13 28h1v1h-1zM18 28h1v1h-1z"/>
<path fill="rgb(255, 223, 0)" d="M22 10h1v1h-1zM24 17h1v1h-1zM26 18h1v1h-1zM27 18h1v1h-1zM14 21h1v1h-1zM10 22h1v1h-1zM10 23h1v1h-1zM12 27h1v1h-1z"/>
<path fill="rgb(255, 207, 0)" d="M24 10h1v1h-1zM21 11h1v1h-1zM26 11h1v1h-1zM28 13h1v1h-1zM22 15h1v1h-1zM11 21h1v1h-1zM18 26h1v1h-1zM18 27h1v1h-1z"/>
<path fill="rgb(255, 191, 0)" d="M23 10h1v1h-1zM27 12h1v1h-1zM21 13h1v1h-1zM23 16h1v1h-1z"/>
<path fill="rgb(255, 175, 0)" d="M21 12h1v1h-1zM28 17h1v1h-1zM13 21h1v1h-1zM15 22h1v1h-1zM17 24h1v1h-1zM14 28h1v1h-1zM17 28h1v1h-1z"/>
<path fill="rgb(255, 159, 0)" d="M28 14h1v1h-1zM12 21h1v1h-1zM16 23h1v1h-1zM11 25h1v1h-1z"/>
<path fill="rgb(255, 143, 0)" d="M22 11h1v1h-1zM25 11h1v1h-1zM25 17h1v1h-1zM11 22h1v1h-1zM15 28h1v1h-1zM16 28h1v1h-1z"/>
<path fill="rgb(255, 128, 0)" d="M22 14h1v1h-1zM28 15h1v1h-1zM28 16h1v1h-1zM27 17h1v1h-1zM11 24h1v1h-1zM12 26h1v1h-1zM13 27h1v1h-1z"/>
<path fill="rgb(255, 112, 0)" d="M27 13h1v1h-1zM26 17h1v1h-1zM11 23h1v1h-1zM17 25h1v1h-1zM17 27h1v1h-1z"/>
<path fill="rgb(255, 96, 0)" d="M23 11h1v1h-1zM24 11h1v1h-1zM26 12h1v1h-1zM24 16h1v1h-1zM14 22h1v1h-1zM17 26h1v1h-1z"/>
<path fill="rgb(255, 80, 0)" d="M22 12h1v1h-1zM22 13h1v1h-1zM23 15h1v1h-1zM12 22h1v1h-1zM14 27h1v1h-1z"/>
<path fill="rgb(255, 64, 0)" d="M27 16h1v1h-1zM13 22h1v1h-1zM16 24h1v1h-1zM12 25h1v1h-1zM16 27h1v1h-1z"/>
<path fill="rgb(255, 48, 0)" d="M27 14h1v1h-1zM15 23h1v1h-1zM13 26h1v1h-1zM15 27h1v1h-1z"/>
<path fill="rgb(255, 32, 0)" d="M23 12h1v1h-1zM25 12h1v1h-1zM27 15h1v1h-1zM25 16h1v1h-1zM12 23h1v1h-1zM12 24h1v1h-1z"/>
<path fill="rgb(255, 16, 0)" d="M24 12h1v1h-1zM26 13h1v1h-1zM23 14h1v1h-1zM26 16h1v1h-1zM16 25h1v1h-1zM16 26h1v1h-1z"/>
<path fill="rgb(255, 0, 0)" d="M23 13h1v1h-1zM24 15h1v1h-1zM14 23h1v1h-1z"/>
<path fill="rgb(239, 0, 0)" d="M26 14h1v1h-1zM13 23h1v1h-1zM15 24h1v1h-1zM13 25h1v1h-1zM14 26h1v1h-1zM15 26h1v1h-1z"/>
<path fill="rgb(223, 0, 0)" d="M25 13h1v1h-1zM25 15h1v1h-1zM26 15h1v1h-1zM13 24h1v1h-1z"/>
<path fill="rgb(207, 0, 0)" d="M24 13h1v1h-1zM24 14h1v1h-1zM14 24h1v1h-1zM14 25h1v1h-1zM15 25h1v1h-1z"/>
<path fill="rgb(191, 0, 0)" d="M25 14h1v1h-1z"/>
</g>
<circle cx="468.1" cy="83.1" r="44.2" fill="none" stroke="#fff" stroke-width="1.1" stroke-dasharray="3.2 2.2"/>
<line x1="424.8" y1="83.3" x2="511.7" y2="83.3" stroke="#fff" stroke-width="1.1" marker-start="url(#mw)" marker-end="url(#mw)"/>
<text x="466.5" y="97" font-size="10.6" text-anchor="start" fill="#fff" class="i" >L</text>
<polygon points="434.4,42.8 430.9,39.5 432.0,38.4 427.0,38.0 427.8,43.0 428.9,41.8 432.4,45.0" fill="#a9a9e6" stroke="#f0a62a" stroke-width="0.9" stroke-linejoin="miter"/>
<polygon points="510.2,46.4 513.8,43.2 514.8,44.4 515.7,39.5 510.7,39.8 511.8,41.0 508.2,44.1" fill="#a9a9e6" stroke="#f0a62a" stroke-width="0.9" stroke-linejoin="miter"/>
<polygon points="431.6,118.7 428.2,121.9 427.1,120.7 426.4,125.7 431.4,125.3 430.3,124.1 433.6,120.9" fill="#a9a9e6" stroke="#f0a62a" stroke-width="0.9" stroke-linejoin="miter"/>
<polygon points="504.9,120.9 508.4,124.2 507.3,125.3 512.3,125.7 511.5,120.7 510.4,121.9 506.9,118.7" fill="#a9a9e6" stroke="#f0a62a" stroke-width="0.9" stroke-linejoin="miter"/>
<text x="358.5" y="86" font-size="10.6" text-anchor="start" fill="#0d0d0d"  textLength="40.7" lengthAdjust="spacingAndGlyphs" >Small in-</text>
<text x="358.5" y="98.6" font-size="10.6" text-anchor="start" fill="#0d0d0d"  textLength="47.5" lengthAdjust="spacingAndGlyphs" >plane loss</text>
<line x1="402" y1="104" x2="425" y2="119" stroke="#f0a62a" stroke-width="1" marker-end="url(#mo)"/>
<polygon points="535.7,100.1 622.6,100.1 622.6,103.1 535.7,103.1" fill="#b2b2b2"/>
<polygon points="622.6,100.1 685.5,53.5 685.5,56.5 622.6,103.1" fill="#aaa"/>
<polygon points="535.7,100.1 622.6,100.1 685.5,53.5 598.6,53.5" fill="#c6c6c6"/>
<line x1="579.1500000000001" y1="100.1" x2="642.05" y2="53.5" stroke="#b9b9b9" stroke-width="1.7"/>
<line x1="567.1500000000001" y1="76.8" x2="654.05" y2="76.8" stroke="#b9b9b9" stroke-width="1.7"/>
<line x1="579.1500000000001" y1="100.1" x2="579.1500000000001" y2="103.1" stroke="#a4a4a4" stroke-width="1.2"/>
<ellipse cx="599.5" cy="66.6" rx="7.4" ry="2.75" fill="#fff" transform="rotate(14 599.5 66.6)"/>
<ellipse cx="611.2" cy="62.8" rx="4.5" ry="1.95" fill="#fff" transform="rotate(0 611.2 62.8)"/>
<ellipse cx="641.5" cy="66.6" rx="7.4" ry="2.75" fill="#fff" transform="rotate(14 641.5 66.6)"/>
<ellipse cx="654" cy="62.8" rx="4.5" ry="1.95" fill="#fff" transform="rotate(0 654 62.8)"/>
<ellipse cx="567.9" cy="90.5" rx="7.4" ry="2.75" fill="#fff" transform="rotate(14 567.9 90.5)"/>
<ellipse cx="579.7" cy="86.2" rx="4.5" ry="1.95" fill="#fff" transform="rotate(0 579.7 86.2)"/>
<ellipse cx="611.7" cy="90.5" rx="7.4" ry="2.75" fill="#fff" transform="rotate(14 611.7 90.5)"/>
<ellipse cx="623.8" cy="86.2" rx="4.5" ry="1.95" fill="#fff" transform="rotate(0 623.8 86.2)"/>
<polygon points="597.4,75.9 586.0,52.7 579.0,55.3 587.8,36.9 607.5,45.2 599.9,47.7 610.0,71.1" fill="#f53c41"/>
<polygon points="616.3,69.1 623.8,47.2 616.3,45.2 635.2,35.1 645.2,52.7 637.7,51.5 630.1,74.2" fill="#f53c41"/>
<text x="610.5" y="25.8" font-size="10.6" text-anchor="middle" fill="#0d0d0d"  textLength="117" lengthAdjust="spacingAndGlyphs" >Slightly oblique radiation</text>
<line x1="536.2" y1="107.4" x2="578.8" y2="107.4" stroke="#111" stroke-width="1" marker-start="url(#mk)" marker-end="url(#mk)"/>
<text x="557" y="116.8" font-size="10.6" text-anchor="middle" fill="#0d0d0d" class="i" >a</text>
<g font-size="10.6" fill="#0d0d0d">
<text x="559" y="131.6" class="i">k</text>
<text x="567.0" y="131.6" font-size="9.6">≈</text>
<text x="581.2" y="125.8" text-anchor="middle">2π</text>
<line x1="575.4000000000001" y1="128.7" x2="587.0" y2="128.7" stroke="#0d0d0d" stroke-width="0.8"/>
<text x="581.2" y="138.79999999999998" text-anchor="middle" class="i">L</text>
<text x="591.4" y="131.6" textLength="46.8" lengthAdjust="spacingAndGlyphs">= 9.2 × 10</text>
<text x="638.5" y="127.6" font-size="5.8">−5</text>
<text x="649" y="131.6">×</text>
<text x="664.1" y="125.8" text-anchor="middle">2π</text>
<line x1="658.3000000000001" y1="128.7" x2="669.9" y2="128.7" stroke="#0d0d0d" stroke-width="0.8"/>
<text x="664.1" y="138.79999999999998" text-anchor="middle" class="i">a</text>
</g>
<text x="611.6" y="151.3" font-size="10.6" fill="#0d0d0d" textLength="50.2" lengthAdjust="spacingAndGlyphs">(<tspan class="i">L</tspan> = 3 mm)</text>
<text x="0" y="177.5" font-size="12.5" text-anchor="start" fill="#000" class="b" >c</text>
<rect x="49" y="184.6" width="141.3" height="141.4" fill="#c0c0c0"/>
<circle cx="137.6" cy="239.3" r="16.3" fill="#fff"/>
<ellipse cx="103.6" cy="272.6" rx="25" ry="16" fill="#fff" transform="rotate(45 103.6 272.6)"/>
<line x1="49.3" y1="326" x2="190.6" y2="184.4" stroke="#111" stroke-width="1.05" stroke-dasharray="3.8 2.5"/>
<path d="M131.0 202.4A42.3 42.3 0 0 1 174.2 234.5" fill="none" stroke="#0aaf50" stroke-width="2.5"/>
<polygon points="175.4,242.4 169.0,232.8 173.9,234.1 178.1,231.2" fill="#0aaf50"/>
<path d="M166.1 244.6A39.4 39.4 0 0 0 140.4 212.0" fill="none" stroke="#0aaf50" stroke-width="2.5"/>
<polygon points="132.7,210.1 144.2,208.6 140.8,212.4 141.6,217.5" fill="#0aaf50"/>
<path d="M132.1 312.0A40.8 40.8 0 0 0 176.7 278.3" fill="none" stroke="#ffff1e" stroke-width="2.5"/>
<polygon points="177.3,270.4 180.8,281.4 176.4,278.8 171.6,280.5" fill="#ffff1e"/>
<path d="M168.8 269.3A46.3 46.3 0 0 1 140.8 303.8" fill="none" stroke="#ffff1e" stroke-width="2.5"/>
<polygon points="133.2,306.2 141.7,298.4 141.1,303.5 144.7,307.1" fill="#ffff1e"/>
<polygon transform="translate(120.2 255.5) rotate(0)" points="10.6,-5.6 59.4,-5.6 59.4,-11.5 70.2,0 59.4,11.5 59.4,5.6 10.6,5.6" fill="#ff9d9d" stroke="#c40808" stroke-width="1.6" stroke-linejoin="miter"/>
<polygon transform="translate(120.2 255.5) rotate(90)" points="10.6,-5.6 59.4,-5.6 59.4,-11.5 70.2,0 59.4,11.5 59.4,5.6 10.6,5.6" fill="#ff9d9d" stroke="#c40808" stroke-width="1.6" stroke-linejoin="miter"/>
<polygon transform="translate(120.2 255.5) rotate(180)" points="10.6,-5.6 59.4,-5.6 59.4,-11.5 70.2,0 59.4,11.5 59.4,5.6 10.6,5.6" fill="#ff9d9d" stroke="#c40808" stroke-width="1.6" stroke-linejoin="miter"/>
<polygon transform="translate(120.2 255.5) rotate(270)" points="10.6,-5.6 59.4,-5.6 59.4,-11.5 70.2,0 59.4,11.5 59.4,5.6 10.6,5.6" fill="#ff9d9d" stroke="#c40808" stroke-width="1.6" stroke-linejoin="miter"/>
<path d="M149.0 252.1A29.4 19.9 0 0 0 96.8 244.0" fill="none" stroke="#1f40ff" stroke-width="2.3"/>
<polygon points="92.4,249.6 96.3,239.1 97.9,243.4 102.5,244.5" fill="#1f40ff"/>
<path d="M91.6 260.6A29.4 19.9 0 0 0 143.6 268.2" fill="none" stroke="#1f40ff" stroke-width="2.3"/>
<polygon points="148.0,262.6 144.1,273.1 142.5,268.8 137.9,267.7" fill="#1f40ff"/>
<text x="113.5" y="179.2" font-size="11" fill="#0d0d0d" ><tspan class="i">R</tspan><tspan font-size="6.8" dy="2.6" class="i">y</tspan></text>
<text x="34.5" y="258.8" font-size="11" fill="#0d0d0d" ><tspan class="i">S</tspan><tspan font-size="6.8" dy="2.6" class="i">x</tspan></text>
<text x="193.5" y="258.8" font-size="11" fill="#0d0d0d" ><tspan class="i">R</tspan><tspan font-size="6.8" dy="2.6" class="i">x</tspan></text>
<text x="115" y="337" font-size="11" fill="#0d0d0d" ><tspan class="i">S</tspan><tspan font-size="6.8" dy="2.6" class="i">y</tspan></text>
<text x="180.5" y="180" font-size="10.6" fill="#0d0d0d" class="i">y = x</text>
<text x="146.5" y="200.5" font-size="11" fill="#0d0d0d" ><tspan class="i">κ</tspan><tspan font-size="6.4" dy="2.6">2D+</tspan></text>
<text x="129.5" y="222.6" font-size="11" fill="#0d0d0d" ><tspan class="i">κ</tspan><tspan font-size="6.4" dy="2.6">2D+</tspan></text>
<text x="84" y="233.5" font-size="11" fill="#0d0d0d" ><tspan class="i">κ</tspan><tspan font-size="6.4" dy="-4" dx="-0.5">*</tspan><tspan font-size="6.4" dy="6.6" dx="-3">1D</tspan></text>
<text x="81" y="273.5" font-size="11" fill="#0d0d0d" ><tspan class="i">κ</tspan><tspan font-size="6.4" dy="2.6">1D</tspan></text>
<text x="137.5" y="286.5" font-size="11" fill="#0d0d0d" ><tspan class="i">κ</tspan><tspan font-size="6.4" dy="-4" dx="-0.5">*</tspan><tspan font-size="6.4" dy="6.6" dx="-3">2D−</tspan></text>
<text x="162.5" y="310.5" font-size="11" fill="#0d0d0d" ><tspan class="i">κ</tspan><tspan font-size="6.4" dy="2.6">2D−</tspan></text>
<path d="M26.6 321V337.5H43.6" fill="none" stroke="#111" stroke-width="1" marker-start="url(#mk)" marker-end="url(#mk)"/>
<text x="24" y="315.3" font-size="10.6" fill="#0d0d0d" class="i">y</text>
<text x="46.5" y="340.6" font-size="10.6" fill="#0d0d0d" class="i">x</text>
<text x="197.4" y="302.4" font-size="11" fill="#0d0d0d" textLength="103.8" lengthAdjust="spacingAndGlyphs"><tspan class="i">R</tspan> = Re[(<tspan class="i">κ</tspan><tspan font-size="6.4" dy="2.6">1D</tspan><tspan dy="-2.6"> + </tspan><tspan class="i">κ</tspan><tspan font-size="6.4" dy="2.6">2D−</tspan><tspan dy="-2.6">)e</tspan><tspan font-size="6.4" dy="-4">−iθpc</tspan><tspan dy="4">]</tspan></text>
<text x="197.4" y="322.5" font-size="11" fill="#0d0d0d" textLength="98.7" lengthAdjust="spacingAndGlyphs"><tspan class="i">I</tspan> = Im[(<tspan class="i">κ</tspan><tspan font-size="6.4" dy="2.6">1D</tspan><tspan dy="-2.6"> + </tspan><tspan class="i">κ</tspan><tspan font-size="6.4" dy="2.6">2D−</tspan><tspan dy="-2.6">)e</tspan><tspan font-size="6.4" dy="-4">−iθpc</tspan><tspan dy="4">]</tspan></text>
<text x="0" y="370.7" font-size="12.5" text-anchor="start" fill="#000" class="b" >d</text>
<rect x="46.3" y="388.2" width="155.3" height="46.10" fill="#a5a5a5"/>
<rect x="46.3" y="434.1" width="155.3" height="21.20" fill="#d9d9d9"/>
<rect x="46.3" y="455.2" width="155.3" height="6.90" fill="#ee3a3e"/>
<rect x="46.3" y="462.0" width="155.3" height="14.40" fill="#a5a5a5"/>
<rect x="46.3" y="476.3" width="155.3" height="21.00" fill="#d9d9d9"/>
<rect x="46.3" y="497.2" width="155.3" height="29.60" fill="#b2b2b2"/>
<rect x="46.3" y="497.2" width="155.3" height="3.30" fill="#808080"/>
<rect x="46.3" y="503.9" width="155.3" height="2.90" fill="#808080"/>
<rect x="46.3" y="510.1" width="155.3" height="2.90" fill="#808080"/>
<rect x="46.3" y="516.6" width="155.3" height="2.80" fill="#808080"/>
<rect x="46.3" y="522.9" width="155.3" height="3.90" fill="#808080"/>
<rect x="46.7" y="384" width="22.5" height="4.4" fill="#ffc000"/>
<rect x="179.1" y="384" width="22.3" height="4.4" fill="#ffc000"/>
<rect x="76.5" y="526.5" width="95.1" height="3.9" fill="#ffc000"/>
<rect x="66.6" y="463.9" width="3.6" height="7.5" fill="#fff"/>
<rect x="71.7" y="463.9" width="3.6" height="7.5" fill="#fff"/>
<rect x="76.8" y="463.9" width="3.6" height="7.5" fill="#fff"/>
<rect x="81.9" y="463.9" width="3.6" height="7.5" fill="#fff"/>
<rect x="87.0" y="463.9" width="3.6" height="7.5" fill="#fff"/>
<rect x="92.1" y="463.9" width="3.6" height="7.5" fill="#fff"/>
<rect x="97.2" y="463.9" width="3.6" height="7.5" fill="#fff"/>
<rect x="102.3" y="463.9" width="3.6" height="7.5" fill="#fff"/>
<rect x="107.4" y="463.9" width="3.6" height="7.5" fill="#fff"/>
<rect x="117.6" y="463.9" width="3.6" height="7.5" fill="#fff"/>
<rect x="127.8" y="463.9" width="3.6" height="7.5" fill="#fff"/>
<rect x="138.0" y="463.9" width="3.6" height="7.5" fill="#fff"/>
<rect x="143.1" y="463.9" width="3.6" height="7.5" fill="#fff"/>
<rect x="148.2" y="463.9" width="3.6" height="7.5" fill="#fff"/>
<rect x="153.3" y="463.9" width="3.6" height="7.5" fill="#fff"/>
<rect x="158.4" y="463.9" width="3.6" height="7.5" fill="#fff"/>
<rect x="163.5" y="463.9" width="3.6" height="7.5" fill="#fff"/>
<rect x="168.6" y="463.9" width="3.6" height="7.5" fill="#fff"/>
<rect x="173.7" y="463.9" width="3.6" height="7.5" fill="#fff"/>
<rect x="178.8" y="463.9" width="3.6" height="7.5" fill="#fff"/>
<path d="M109.4 397.6A16.2 4.4 0 0 1 141.8 397.6" fill="none" stroke="#111" stroke-width="0.9"/>
<path d="M119.9 470.1V490.45A5.3 5.3 0 0 0 130.5 490.45V474.5" fill="none" stroke="#ed7d31" stroke-width="6.9"/>
<polygon points="125.9,475.6 130.6,470.6 136,475.6" fill="#ed7d31"/>
<rect x="127.05" y="377" width="6.9" height="89.8" fill="#ed7d31"/>
<polygon points="124.2,377.3 130.8,370.4 137.7,377.3" fill="#ed7d31"/>
<rect x="116.25" y="377" width="7.3" height="89.8" fill="#ffc000"/>
<polygon points="112.9,377.3 119.9,370.4 126.7,377.3" fill="#ffc000"/>
<path d="M96.9 459.2C98.2 451.5 104.0 446.2 110.5 444.5C113.5 443.8 114.0 439.8 110.5 439.9C101.0 440.3 93.2 447 92.2 456.5" fill="none" stroke="#00b0f0" stroke-width="1.4" stroke-linecap="round"/>
<polygon points="91.6,460.6 89.7,454.7 92.1,456.2 94.9,455.4" fill="#00b0f0"/>
<path d="M152.2 459.2C150.9 451.5 145.1 446.2 138.6 444.5C135.6 443.8 135.1 439.8 138.6 439.9C148.1 440.3 155.9 447 156.9 456.5" fill="none" stroke="#00b0f0" stroke-width="1.4" stroke-linecap="round"/>
<polygon points="157.5,460.6 154.2,455.4 157.0,456.2 159.4,454.7" fill="#00b0f0"/>
<path d="M103.6 460.5C106.5 439.3 143 439.0 147.2 458.5" fill="none" stroke="#7030a0" stroke-width="1.6"/>
<polygon points="148.1,463.0 144.6,457.7 147.4,458.5 149.7,456.9" fill="#7030a0"/>
<path d="M144 461.6C140.5 445.0 110.5 444.8 107.6 459.5" fill="none" stroke="#7030a0" stroke-width="1.6"/>
<polygon points="106.9,463.6 105.3,457.5 107.6,459.1 110.4,458.3" fill="#7030a0"/>
<polygon points="111.0,465.3 92.2,465.3 92.2,462.1 85.4,468.5 92.2,475.0 92.2,471.5 111.0,471.5" fill="#ff9d9d" stroke="#c40808" stroke-width="1.3" stroke-linejoin="miter"/>
<polygon points="137.5,465.3 156.3,465.3 156.3,462.1 162.9,468.5 156.3,475.0 156.3,471.5 137.5,471.5" fill="#ff9d9d" stroke="#c40808" stroke-width="1.3" stroke-linejoin="miter"/>
<path d="M109.4 397.6A16.2 4.4 0 0 0 141.8 397.6" fill="none" stroke="#111" stroke-width="0.9"/>
<line x1="140.8" y1="396.2" x2="157.6" y2="371.2" stroke="#111" stroke-width="0.9"/>
<text x="151.9" y="368.9" font-size="10.6" text-anchor="start" fill="#0d0d0d"  textLength="76.1" lengthAdjust="spacingAndGlyphs" >Radiative waves</text>
<line x1="201.6" y1="385.5" x2="216.5" y2="381.1" stroke="#111" stroke-width="0.9"/>
<text x="220.9" y="384" font-size="10.6" text-anchor="start" fill="#0d0d0d"  textLength="53.4" lengthAdjust="spacingAndGlyphs" >n-electrode</text>
<line x1="201.6" y1="410.4" x2="216.5" y2="403.9" stroke="#111" stroke-width="0.9"/>
<text x="223" y="408.3" font-size="10.6" text-anchor="start" fill="#0d0d0d"  textLength="82.4" lengthAdjust="spacingAndGlyphs" >n-GaAs substrate</text>
<line x1="201.6" y1="443.9" x2="218.5" y2="430.6" stroke="#111" stroke-width="0.9"/>
<text x="223.6" y="433.5" font-size="10.6" text-anchor="start" fill="#0d0d0d"  textLength="93.4" lengthAdjust="spacingAndGlyphs" >n-AlGaAs clad layer</text>
<line x1="201.6" y1="457.2" x2="218.5" y2="451.3" stroke="#111" stroke-width="0.9"/>
<text x="223.8" y="454.8" font-size="10.6" text-anchor="start" fill="#0d0d0d"  textLength="54.6" lengthAdjust="spacingAndGlyphs" >Active layer</text>
<line x1="181.5" y1="467.6" x2="219.4" y2="466.7" stroke="#111" stroke-width="0.9"/>
<text x="223.8" y="470.5" font-size="10.6" text-anchor="start" fill="#0d0d0d"  textLength="102" lengthAdjust="spacingAndGlyphs" >Photonic crystal layer</text>
<line x1="201.6" y1="486.5" x2="220" y2="486.5" stroke="#111" stroke-width="0.9"/>
<text x="223.8" y="488.2" font-size="10.6" text-anchor="start" fill="#0d0d0d"  textLength="93.2" lengthAdjust="spacingAndGlyphs" >p-AlGaAs clad layer</text>
<line x1="201.6" y1="511.1" x2="218.5" y2="513.5" stroke="#111" stroke-width="0.9"/>
<text x="222.4" y="515.6" font-size="10.6" text-anchor="start" fill="#0d0d0d"  textLength="31.7" lengthAdjust="spacingAndGlyphs" >p-DBR</text>
<line x1="171.3" y1="528.2" x2="211.1" y2="535.4" stroke="#111" stroke-width="0.9"/>
<text x="214.7" y="538.4" font-size="10.6" text-anchor="start" fill="#0d0d0d"  textLength="54.5" lengthAdjust="spacingAndGlyphs" >p-electrode</text>
<text x="81.4" y="441" font-size="10.6" fill="#0d0d0d">i<tspan class="i" font-family="'Liberation Serif',serif" font-size="10.6" dx="-0.6">μ</tspan></text>
<line x1="89.9" y1="439.9" x2="98.4" y2="445.8" stroke="#111" stroke-width="0.9"/>
<text x="162.3" y="441" font-size="10.6" fill="#0d0d0d">i<tspan class="i" font-family="'Liberation Serif',serif" font-size="10.6" dx="-0.6">μ</tspan></text>
<line x1="160.1" y1="439.9" x2="150.3" y2="445.8" stroke="#111" stroke-width="0.9"/>
<text x="77" y="492.3" font-size="10.6" fill="#0d0d0d">i<tspan class="i" font-family="'Liberation Serif',serif" font-size="10.6" dx="-0.6">μ</tspan><tspan class="i">e</tspan><tspan font-size="7.4" dy="-3.6">iθpc</tspan></text>
<line x1="106.3" y1="482" x2="117.7" y2="445.1" stroke="#111" stroke-width="0.9"/>
<text x="143.4" y="492.3" font-size="10.6" fill="#0d0d0d">i<tspan class="i" font-family="'Liberation Serif',serif" font-size="10.6" dx="-0.6">μ</tspan><tspan class="i">e</tspan><tspan font-size="7.4" dy="-3.6">−iθpc</tspan></text>
<line x1="145.7" y1="482" x2="133.2" y2="446.5" stroke="#111" stroke-width="0.9"/>
<text x="72.4" y="472" font-size="10.6" fill="#0d0d0d" ><tspan class="i">S</tspan><tspan font-size="6.4" dy="2.6" class="i">x</tspan></text>
<text x="166" y="472" font-size="10.6" fill="#0d0d0d" ><tspan class="i">R</tspan><tspan font-size="6.4" dy="2.6" class="i">x</tspan></text>
<line x1="77" y1="536.8" x2="171.2" y2="536.8" stroke="#111" stroke-width="1" marker-start="url(#mk)" marker-end="url(#mk)"/>
<text x="125" y="547.6" font-size="10.6" fill="#0d0d0d" class="i" text-anchor="middle">L</text>
<path d="M25.6 520.6V537.4H42.8" fill="none" stroke="#111" stroke-width="1" marker-start="url(#mk)" marker-end="url(#mk)"/>
<text x="23.1" y="516.6" font-size="10.6" fill="#0d0d0d" class="i">z</text>
<text x="45" y="540.7" font-size="10.6" fill="#0d0d0d" class="i">x</text>
<text x="365.2" y="200.2" font-size="12.5" text-anchor="start" fill="#000" class="b" >e</text>
<path d="M399.5 235.6V471.3H603.6" fill="none" stroke="#111" stroke-width="1"/>
<line x1="399.5" y1="314.2" x2="407.3" y2="314.2" stroke="#111" stroke-width="1"/>
<line x1="399.5" y1="235.6" x2="407.3" y2="235.6" stroke="#111" stroke-width="1"/>
<line x1="399.5" y1="392.9" x2="406.9" y2="392.9" stroke="#999" stroke-width="1.3"/>
<line x1="535.4" y1="464" x2="535.4" y2="471.1" stroke="#111" stroke-width="1"/>
<text x="394.3" y="473.2" font-size="10.6" text-anchor="end" fill="#0d0d0d"  >5</text>
<text x="394.3" y="395.9" font-size="10.6" text-anchor="end" fill="#0d0d0d"  >10</text>
<text x="394.3" y="317.3" font-size="10.6" text-anchor="end" fill="#0d0d0d"  >15</text>
<text x="394.3" y="238.7" font-size="10.6" text-anchor="end" fill="#0d0d0d"  >20</text>
<text x="399.2" y="484.9" font-size="10.6" text-anchor="middle" fill="#0d0d0d"  >0</text>
<text x="512.3" y="483.3" font-size="10.6" fill="#0d0d0d">1.0 × 10<tspan font-size="6.6" dy="-3.8">−4</tspan></text>
<line x1="461.7" y1="236" x2="461.7" y2="471" stroke="#111" stroke-width="1" stroke-dasharray="3.2 2.4"/>
<line x1="524.7" y1="236" x2="524.7" y2="471" stroke="#111" stroke-width="1" stroke-dasharray="3.2 2.4"/>
<path d="M399.5 390.7L402.9 390.7L406.3 390.6L409.6 390.6L413.0 390.4L416.4 390.3L419.8 390.1L423.2 389.9L426.5 389.6L429.9 389.3L433.3 389.0L436.7 388.6L440.0 388.3L443.4 387.8L446.8 387.4L450.2 386.9L453.6 386.3L456.9 385.8L460.3 385.2L463.7 384.6L467.1 383.9L470.5 383.2L473.8 382.5L477.2 381.7L480.6 380.9L484.0 380.1L487.4 379.2L490.7 378.3L494.1 377.4L497.5 376.4L500.9 375.4L504.3 374.3L507.6 373.3L511.0 372.2L514.4 371.0L517.8 369.8L521.1 368.6L524.5 367.4L527.9 366.1L531.3 364.8L534.7 363.5L538.0 362.1L541.4 360.7L544.8 359.2L548.2 357.7L551.6 356.2L554.9 354.7L558.3 353.1L561.7 351.5L565.1 349.8L568.5 348.1L571.8 346.4L575.2 344.7L578.6 342.9L582.0 341.1L585.4 339.2L588.7 337.3L592.1 335.4L595.5 333.4L598.9 331.4L602.2 329.4" fill="none" stroke="#111" stroke-width="1.9" stroke-linejoin="round"/>
<path d="M399.5 390.7L402.9 390.7L406.3 390.6L409.6 390.4L413.0 390.1L416.4 389.8L419.8 389.4L423.2 389.0L426.5 388.5L429.9 387.9L433.3 387.2L436.7 386.5L440.0 385.7L443.4 384.8L446.8 383.9L450.2 382.8L453.6 381.8L456.9 380.6L460.3 379.4L463.7 378.1L467.1 376.7L470.5 375.3L473.8 373.8L477.2 372.3L480.6 370.6L484.0 368.9L487.4 367.2L490.7 365.3L494.1 363.4L497.5 361.5L500.9 359.4L504.3 357.3L507.6 355.2L511.0 352.9L514.4 350.6L517.8 348.2L521.1 345.8L524.5 343.3L527.9 340.7L531.3 338.1L534.7 335.4L538.0 332.7L541.4 329.8L544.8 327.0L548.2 324.0L551.6 321.0L554.9 317.9L558.3 314.8L561.7 311.6L565.1 308.3L568.5 305.0L571.8 301.6L575.2 298.2L578.6 294.6L582.0 291.1L585.4 287.5L588.7 283.8L592.1 280.0L595.5 276.2L598.9 272.3L602.2 268.4" fill="none" stroke="#1fa357" stroke-width="1.9" stroke-linejoin="round"/>
<path d="M399.5 390.7L402.3 390.7L405.1 390.5L407.9 390.3L410.8 390.0L413.6 389.5L416.4 389.0L419.2 388.4L422.0 387.7L424.8 386.9L427.6 386.0L430.4 385.0L433.3 383.9L436.1 382.8L438.9 381.5L441.7 380.1L444.5 378.7L447.3 377.2L450.1 375.5L453.0 373.8L455.8 372.0L458.6 370.1L461.4 368.1L464.2 366.1L467.0 363.9L469.8 361.7L472.6 359.3L475.5 356.9L478.3 354.4L481.1 351.8L483.9 349.2L486.7 346.4L489.5 343.6L492.3 340.7L495.2 337.7L498.0 334.6L500.8 331.5L503.6 328.3L506.4 325.0L509.2 321.6L512.0 318.2L514.8 314.6L517.7 311.0L520.5 307.4L523.3 303.6L526.1 299.8L528.9 296.0L531.7 292.0L534.5 288.0L537.4 284.0L540.2 279.8L543.0 275.6L545.8 271.4L548.6 267.0L551.4 262.7L554.2 258.2L557.0 253.7L559.9 249.2L562.7 244.5L565.5 239.9L568.3 235.2" fill="none" stroke="#f03c3c" stroke-width="1.9" stroke-linejoin="round"/>
<line x1="439.1" y1="302.4" x2="524.6" y2="302.4" stroke="#f66" stroke-width="0.9" stroke-dasharray="2.5 1.7"/>
<line x1="439.1" y1="367.9" x2="461.6" y2="367.9" stroke="#f66" stroke-width="0.9" stroke-dasharray="2.5 1.7"/>
<line x1="446" y1="304.2" x2="446" y2="366" stroke="#f03c3c" stroke-width="1" marker-start="url(#mr)" marker-end="url(#mr)"/>
<circle cx="524.7" cy="302.4" r="2.9" fill="#fff" stroke="#f03c3c" stroke-width="1.3"/>
<circle cx="461.7" cy="367.9" r="2.9" fill="#fff" stroke="#f03c3c" stroke-width="1.3"/>
<text x="425" y="338" font-size="10.6" fill="#0d0d0d" font-family="'Liberation Serif',serif">Δ<tspan class="i" font-size="11.5">α</tspan><tspan font-size="6" dy="2.6" font-family="'Liberation Sans',sans-serif">v</tspan></text>
<text x="414.9" y="203.7" font-size="10.6" text-anchor="start" fill="#0d0d0d"  textLength="61.3" lengthAdjust="spacingAndGlyphs" >Fundamental</text>
<text x="502.4" y="203.7" font-size="10.6" text-anchor="start" fill="#0d0d0d"  textLength="64.8" lengthAdjust="spacingAndGlyphs" >1st high order</text>
<line x1="445.5" y1="209" x2="461.4" y2="234" stroke="#111" stroke-width="0.9" marker-end="url(#mk)"/>
<line x1="535.4" y1="209" x2="525.1" y2="234" stroke="#111" stroke-width="0.9" marker-end="url(#mk)"/>
<text x="621" y="236.2" font-size="10.6" fill="#0d0d0d" textLength="53.5" lengthAdjust="spacingAndGlyphs"><tspan class="i">R</tspan> = 15 cm<tspan font-size="6.2" dy="-3.8">−1</tspan></text>
<text x="620.2" y="248.6" font-size="10.6" fill="#0d0d0d" textLength="54.4" lengthAdjust="spacingAndGlyphs"><tspan class="i" font-family="'Liberation Serif',serif" font-size="11.5">μ</tspan> = 30 cm<tspan font-size="6.2" dy="-3.8">−1</tspan></text>
<text x="621" y="288.5" font-size="10.6" fill="#0d0d0d" textLength="53.5" lengthAdjust="spacingAndGlyphs"><tspan class="i">R</tspan> = 30 cm<tspan font-size="6.2" dy="-3.8">−1</tspan></text>
<text x="620.2" y="300.9" font-size="10.6" fill="#0d0d0d" textLength="54.4" lengthAdjust="spacingAndGlyphs"><tspan class="i" font-family="'Liberation Serif',serif" font-size="11.5">μ</tspan> = 60 cm<tspan font-size="6.2" dy="-3.8">−1</tspan></text>
<text x="621" y="357.7" font-size="10.6" fill="#0d0d0d" textLength="53.5" lengthAdjust="spacingAndGlyphs"><tspan class="i">R</tspan> = 60 cm<tspan font-size="6.2" dy="-3.8">−1</tspan></text>
<text x="620.2" y="370.09999999999997" font-size="10.6" fill="#0d0d0d" textLength="60.8" lengthAdjust="spacingAndGlyphs"><tspan class="i" font-family="'Liberation Serif',serif" font-size="11.5">μ</tspan> = 120 cm<tspan font-size="6.2" dy="-3.8">−1</tspan></text>
<line x1="616.6" y1="236.2" x2="556.4" y2="260" stroke="#f03c3c" stroke-width="0.9" marker-end="url(#mr)"/>
<line x1="616.6" y1="288.8" x2="581.9" y2="298" stroke="#1fa357" stroke-width="0.9" marker-end="url(#mg)"/>
<line x1="616.4" y1="351.8" x2="583.8" y2="343.8" stroke="#111" stroke-width="0.9" marker-end="url(#mk)"/>
<text x="399.2" y="499.8" font-size="11" fill="#0d0d0d" font-family="'Liberation Serif',serif">Γ</text>
<line x1="409.4" y1="496.5" x2="585" y2="496.5" stroke="#111" stroke-width="0.9" marker-end="url(#mk)"/>
<text x="590" y="499.8" font-size="10.6" fill="#0d0d0d">M</text>
<text x="444" y="510.5" font-size="10.6" fill="#0d0d0d" textLength="101.3" lengthAdjust="spacingAndGlyphs">Wave number <tspan class="i">k</tspan> (2π/<tspan class="i">a</tspan>)</text>
<text transform="translate(372.7 414.2) rotate(-90)" font-size="10.6" fill="#0d0d0d" textLength="132.5" lengthAdjust="spacingAndGlyphs">Radiation constant <tspan class="i" font-family="'Liberation Serif',serif" font-size="11.5">α</tspan><tspan font-size="6" dy="2.4">A</tspan><tspan dy="-2.4"> (cm</tspan><tspan font-size="6.6" dy="-3.8">−1</tspan><tspan dy="3.8">)</tspan></text>
</svg></body></html>
